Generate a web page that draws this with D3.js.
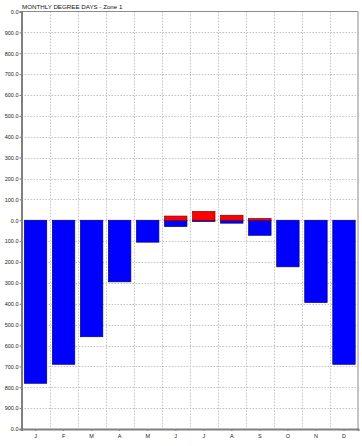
<!DOCTYPE html>
<html lang="en">
<head>
<meta charset="UTF-8">
<script src="https://d3js.org/d3.v7.min.js"></script>
<style>
    body { margin: 0; background: #fff; font-family: Arial, "Liberation Sans", sans-serif; }
    svg { display: block; }
</style>
</head>
<body>
<script>
    // ---- data ----
    const months = ["J", "F", "M", "A", "M", "J", "J", "A", "S", "O", "N", "D"];
    const heating = [-781, -690, -558, -295, -105, -30, -6, -14, -72, -223, -394, -690];
    const cooling = [0, 0, 0, 0, 0, 20, 42, 24, 8, 0, 0, 0];
    const tickValues = [1000, 900, 800, 700, 600, 500, 400, 300, 200, 100, 0,
        -100, -200, -300, -400, -500, -600, -700, -800, -900, -1000];
    const tickLabels = ["0.0", "900.0", "800.0", "700.0", "600.0", "500.0", "400.0", "300.0", "200.0", "100.0", "0.0",
        "100.0", "200.0", "300.0", "400.0", "500.0", "600.0", "700.0", "800.0", "900.0", "0.0"];
    const title = "MONTHLY DEGREE DAYS - Zone 1";

    // ---- layout ----
    const W = 362, H = 446;
    const mLeft = 21.5, mRight = 358, mTop = 11.5, mBottom = 429;

    const svg = d3.select("body").append("svg").attr("width", W).attr("height", H);

    const x = d3.scaleBand().domain(d3.range(12)).range([mLeft, mRight]).paddingInner(0.2).paddingOuter(0.1);
    const y = d3.scaleLinear().domain([-1000, 1000]).range([mBottom, mTop]);

    // grid
    svg.append("g").selectAll("line")
        .data(tickValues.slice(1, -1))
        .join("line")
        .attr("x1", mLeft).attr("x2", mRight)
        .attr("y1", d => Math.round(y(d)) + 0.5).attr("y2", d => Math.round(y(d)) + 0.5)
        .attr("stroke", "#c4c4c4").attr("stroke-dasharray", "1.5,1.5");

    svg.append("g").selectAll("line")
        .data(d3.range(1, 12))
        .join("line")
        .attr("x1", d => Math.round(mLeft + d * x.step()) + 0.5)
        .attr("x2", d => Math.round(mLeft + d * x.step()) + 0.5)
        .attr("y1", mTop).attr("y2", mBottom)
        .attr("stroke", "#c4c4c4").attr("stroke-dasharray", "1.5,1.5");

    // heating bars (blue, downward)
    svg.append("g").selectAll("rect")
        .data(heating)
        .join("rect")
        .attr("x", (d, i) => x(i))
        .attr("width", x.bandwidth())
        .attr("y", y(0))
        .attr("height", d => y(d) - y(0))
        .attr("fill", "#0000ff")
        .attr("stroke", "#000080").attr("stroke-width", 0.7);

    // cooling bars (red, upward)
    const coolRows = cooling.map((v, i) => ({ i, v })).filter(d => d.v > 0);
    svg.append("g").selectAll("rect")
        .data(coolRows)
        .join("rect")
        .attr("x", d => x(d.i))
        .attr("width", x.bandwidth())
        .attr("y", d => y(d.v))
        .attr("height", d => y(0) - y(d.v))
        .attr("fill", "#ff0000")
        .attr("stroke", "#800000").attr("stroke-width", 0.7);

    // frame
    svg.append("line").attr("x1", mLeft).attr("x2", mRight).attr("y1", mTop).attr("y2", mTop)
        .attr("stroke", "#8c8c8c").attr("stroke-width", 1);
    svg.append("line").attr("x1", mRight).attr("x2", mRight).attr("y1", mTop).attr("y2", mBottom)
        .attr("stroke", "#8c8c8c").attr("stroke-width", 1);

    // y axis
    const yAxis = d3.axisLeft(y).tickValues(tickValues)
        .tickFormat((d, i) => tickLabels[i]).tickSize(2).tickPadding(1);
    const gy = svg.append("g").attr("transform", `translate(${mLeft},0)`).call(yAxis);
    gy.select(".domain").attr("stroke", "#808080").attr("stroke-width", 2);
    gy.selectAll(".tick line").attr("stroke", "#808080");
    gy.selectAll("text").attr("font-size", 5.5).attr("fill", "#222").attr("font-family", "Arial, 'Liberation Sans', sans-serif");

    // x axis
    const xAxis = d3.axisBottom(x).tickFormat(i => months[i]).tickSize(2).tickPadding(3);
    const gx = svg.append("g").attr("transform", `translate(0,${mBottom})`).call(xAxis);
    gx.select(".domain").attr("stroke", "#808080").attr("stroke-width", 2);
    gx.selectAll(".tick line").attr("stroke", "#808080");
    gx.selectAll("text").attr("font-size", 5.5).attr("fill", "#222").attr("font-family", "Arial, 'Liberation Sans', sans-serif");

    // title
    svg.append("text").attr("x", mLeft + 0.5).attr("y", 9)
        .attr("font-size", 6.2).attr("fill", "#111")
        .attr("font-family", "Arial, 'Liberation Sans', sans-serif")
        .text(title);
</script>
</body>
</html>
